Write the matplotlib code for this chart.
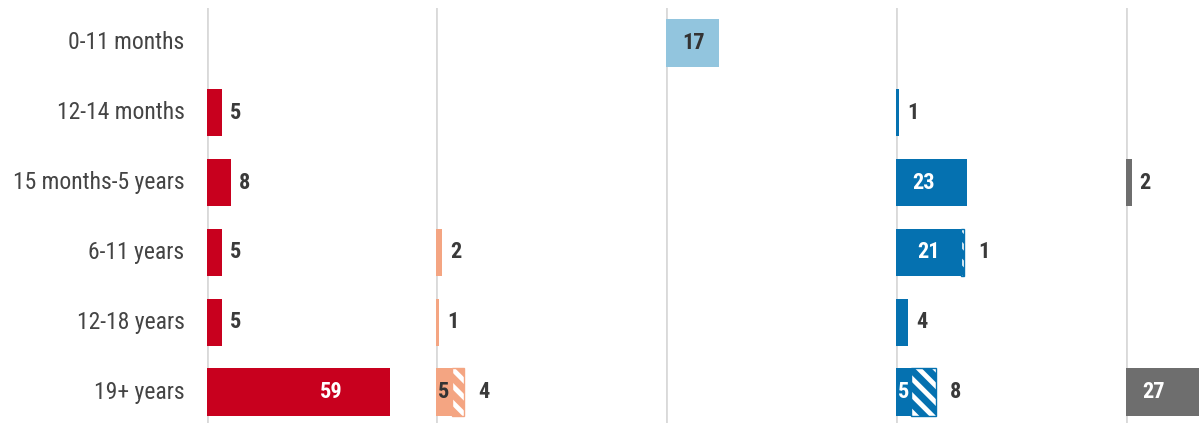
import matplotlib
matplotlib.use('Agg')
import matplotlib.pyplot as plt

plt.rcParams['font.family'] = ['Roboto Condensed', 'Liberation Sans Narrow', 'Roboto', 'DejaVu Sans']
plt.rcParams['hatch.linewidth'] = 3.5

categories = ['0-11 months', '12-14 months', '15 months-5 years',
              '6-11 years', '12-18 years', '19+ years']

red_vals = [0, 5, 8, 5, 5, 59]
orange_solid = [0, 0, 0, 2, 1, 5]
orange_hatch = [0, 0, 0, 0, 0, 4]
lightblue_vals = [17, 0, 0, 0, 0, 0]
blue_solid = [0, 1, 23, 21, 4, 5]
blue_hatch = [0, 0, 0, 1, 0, 8]
grey_vals = [0, 0, 2, 0, 0, 27]

panels = [
    (red_vals, [0] * 6, '#C8001E', 'white'),
    (orange_solid, orange_hatch, '#F4A582', '#333333'),
    (lightblue_vals, [0] * 6, '#92C5DE', '#333333'),
    (blue_solid, blue_hatch, '#0571B0', 'white'),
    (grey_vals, [0] * 6, '#6E6E6E', 'white'),
]

W, H = 1199, 423
fig = plt.figure(figsize=(W / 100, H / 100), dpi=100)

x0 = 206.5
pw = 229.75
top_px, bot_px = 8, 427
xmax = 74

txt_dark = '#3a3a3a'
fs = 16
y = list(range(len(categories)))

for i, (solid, hatch, color, inner) in enumerate(panels):
    left = (x0 + i * pw) / W
    ax = fig.add_axes([left, (H - bot_px) / H, pw / W, (bot_px - top_px) / H])
    ax.set_xlim(0, xmax)
    ax.set_ylim(len(categories) - 0.5, -0.5)
    ax.axvline(0, color='#d9d9d9', lw=2, zorder=0)
    for s in ax.spines.values():
        s.set_visible(False)
    ax.set_xticks([])
    ax.set_yticks([])
    ax.patch.set_alpha(0)

    ax.barh(y, solid, height=0.68, color=color, lw=0, zorder=2)
    hy = [j for j in y if hatch[j] > 0]
    if hy:
        hw = [hatch[j] for j in hy]
        hl = [solid[j] for j in hy]
        ax.barh(hy, hw, left=hl, height=0.68, color=color,
                edgecolor='white', hatch='\\\\', lw=0, zorder=2)
        ax.barh(hy, hw, left=hl, height=0.68, fill=False,
                edgecolor=color, lw=1, zorder=3)

    for j in y:
        s, h = solid[j], hatch[j]
        if s == 0 and h == 0:
            continue
        if h > 0:
            ax.text(s / 2, j, str(s), ha='center', va='center',
                    color=inner, fontsize=fs, fontweight='bold', zorder=4)
            ax.annotate(str(h), (s + h, j), xytext=(14, 0),
                        textcoords='offset pixels', ha='left', va='center',
                        color=txt_dark, fontsize=fs, fontweight='bold')
        elif s >= 15:
            lx = 9 if s < 40 else s * 0.68
            ax.text(lx, j, str(s), ha='center', va='center', color=inner,
                    fontsize=fs, fontweight='bold', zorder=4)
        else:
            ax.annotate(str(s), (s, j), xytext=(8, 0),
                        textcoords='offset pixels', ha='left', va='center',
                        color=txt_dark, fontsize=fs, fontweight='bold')

    if i == 0:
        for j, c in enumerate(categories):
            ax.annotate(c, (0, j), xytext=(-22, 0), textcoords='offset pixels',
                        ha='right', va='center', color='#444444', fontsize=17)

fig.savefig('out.png', dpi=100)
